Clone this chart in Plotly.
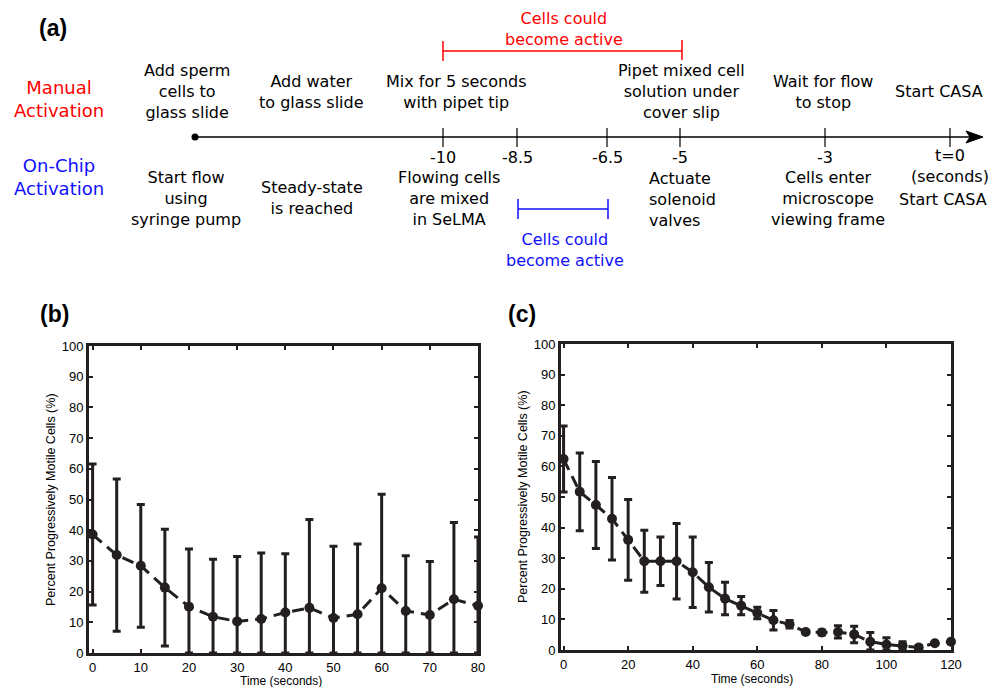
import numpy as np
import plotly.graph_objects as go

# ---------------- data ----------------
b_time = [0, 5, 10, 15, 20, 25, 30, 35, 40, 45, 50, 55, 60, 65, 70, 75, 80]
b_mean = [38.6, 31.9, 28.4, 21.3, 15.1, 11.8, 10.3, 11.1, 13.2, 14.7, 11.4, 12.6, 21.1, 13.7, 12.4, 17.5, 15.4]
b_err = [23.0, 24.8, 20.0, 19.0, 18.8, 18.7, 21.1, 21.5, 19.1, 28.8, 23.4, 22.9, 30.6, 18.0, 17.4, 25.0, 22.4]

c_time = [0, 5, 10, 15, 20, 25, 30, 35, 40, 45, 50, 55, 60, 65, 70, 75, 80, 85, 90, 95, 100, 105, 110, 115, 120]
c_mean = [62.4, 51.7, 47.4, 42.9, 36.0, 29.0, 29.0, 29.0, 25.4, 20.5, 16.8, 14.5, 12.1, 9.7, 8.4, 5.9, 5.7, 5.9, 5.1, 2.7, 1.8, 1.4, 0.8, 2.2, 2.7]
c_err = [10.8, 12.7, 14.2, 13.5, 13.2, 10.1, 7.9, 12.3, 11.5, 8.1, 5.3, 3.0, 1.9, 3.2, 1.2, 0.3, 0.8, 2.0, 2.7, 3.0, 2.2, 1.3, 0.7, 0.3, 0.3]

timeline_ticks = ["-10", "-8.5", "-6.5", "-5", "-3"]
manual_steps = ["Add sperm<br>cells to<br>glass slide", "Add water<br>to glass slide",
                "Mix for 5 seconds<br>with pipet tip", "Pipet mixed cell<br>solution under<br>cover slip",
                "Wait for flow<br>to stop", "Start CASA"]
chip_steps = ["Start flow<br>using<br>syringe pump", "Steady-state<br>is reached",
              "Flowing cells<br>are mixed<br>in SeLMA", "Actuate<br>solenoid<br>valves",
              "Cells enter<br>microscope<br>viewing frame", "Start CASA"]

# ---------------- layout helpers ----------------
W, H = 989, 687
def px(x):
    return x / W
def py(y):
    return 1 - y / H

INK = "#231f20"
RED = "#ff0000"
BLUE = "#1010ff"
TL_FONT = dict(family="DejaVu Sans", size=16, color="black")

fig = go.Figure()

def add_series(t, m, e, xa, ya):
    m = np.array(m)
    e = np.array(e)
    fig.add_trace(go.Scatter(
        x=t, y=m, xaxis=xa, yaxis=ya, mode="lines+markers",
        line=dict(color=INK, width=3, dash="12px,7px"),
        marker=dict(color=INK, size=10, symbol="circle"),
        error_y=dict(type="data", symmetric=False, array=e, arrayminus=np.minimum(e, m),
                     color=INK, thickness=3, width=4),
        cliponaxis=False, showlegend=False, hoverinfo="skip"))

add_series(b_time, b_mean, b_err, "x", "y")
add_series(c_time, c_mean, c_err, "x2", "y2")

axis_common = dict(showline=True, linewidth=3, linecolor=INK, mirror="allticks",
                   ticks="inside", ticklen=4, tickwidth=2, tickcolor=INK,
                   showgrid=False, zeroline=False, automargin=False,
                   tickfont=dict(family="Liberation Sans", size=13, color="black"))

fig.update_layout(
    width=W, height=H, autosize=False, margin=dict(l=0, r=0, t=0, b=0, pad=0),
    paper_bgcolor="white", plot_bgcolor="white",
    xaxis=dict(domain=[px(89), px(478)], range=[-0.75, 80], tickvals=list(range(0, 81, 10)),
               anchor="y", **axis_common),
    yaxis=dict(domain=[py(653), py(346)], range=[0, 100], tickvals=list(range(0, 101, 10)),
               anchor="x", **axis_common),
    xaxis2=dict(domain=[px(561), px(951)], range=[-0.8, 120], tickvals=list(range(0, 121, 20)),
                anchor="y2", **axis_common),
    yaxis2=dict(domain=[py(650), py(344)], range=[0, 100], tickvals=list(range(0, 101, 10)),
                anchor="x2", **axis_common),
)

ann = []
shapes = []

def text(x, y, s, font, xanchor="center", align="center", textangle=0):
    ann.append(dict(x=px(x), y=py(y), xref="paper", yref="paper", text=s, showarrow=False,
                    font=font, xanchor=xanchor, yanchor="middle", align=align, textangle=textangle))

def line(x0, y0, x1, y1, color="black", width=1.5):
    shapes.append(dict(type="line", xref="paper", yref="paper", x0=px(x0), y0=py(y0),
                       x1=px(x1), y1=py(y1), line=dict(color=color, width=width)))

# panel labels
lab_font = dict(family="Liberation Sans", size=23, color="black")
text(53, 28, "<b>(a)</b>", lab_font)
text(54, 314, "<b>(b)</b>", lab_font)
text(522, 314, "<b>(c)</b>", lab_font)

# axis titles for panels b, c
ytitle_font = dict(family="Liberation Sans", size=12.5, color="black")
xtitle_font = dict(family="Liberation Sans", size=12, color="black")
text(51, 500, "Percent Progressively Motile Cells (%)", ytitle_font, textangle=-90)
text(523, 497, "Percent Progressively Motile Cells (%)", ytitle_font, textangle=-90)
text(281, 680.5, "Time (seconds)", xtitle_font)
text(752, 678.5, "Time (seconds)", xtitle_font)

# ---------------- timeline (panel a) ----------------
row_font = dict(family="DejaVu Sans", size=18, color=RED)
text(59, 99, "Manual<br>Activation", row_font)
text(59, 177, "On-Chip<br>Activation", dict(row_font, color=BLUE))

axis_y = 137
line(195, axis_y, 970, axis_y, width=1.5)
shapes.append(dict(type="circle", xref="paper", yref="paper", x0=px(191.5), y0=py(133.5),
                   x1=px(198.5), y1=py(140.5), fillcolor="black", line=dict(color="black", width=0)))
shapes.append(dict(type="path", xref="paper", yref="paper",
                   path=f"M {px(966)} {py(131)} L {px(983)} {py(137)} L {px(966)} {py(143)} L {px(970)} {py(137)} Z",
                   fillcolor="black", line=dict(color="black", width=1)))

tick_px = [443, 517, 607, 680, 825, 950]
for xp in tick_px:
    line(xp, 128, xp, 147, width=1.2)
for xp, lab in zip(tick_px, timeline_ticks):
    text(xp, 158, lab, TL_FONT)
text(950, 166, "t=0<br>(seconds)", TL_FONT)

manual_x = [187, 311, 456, 681, 823, 939]
for xp, s in zip(manual_x, manual_steps):
    text(xp, 92, s, TL_FONT)

chip_x = [186, 312, 449, 647, 828, 943]
for i, (xp, s) in enumerate(zip(chip_x, chip_steps)):
    if i == 3:
        text(xp, 199, s, TL_FONT, xanchor="left", align="left")
    else:
        text(xp, 198 if i != 5 else 199, s, TL_FONT)

# red bracket (manual activation window)
line(443, 51, 682, 51, color=RED, width=1.5)
line(443, 41, 443, 61, color=RED, width=1.5)
line(682, 40, 682, 60, color=RED, width=1.5)
text(564, 29, "Cells could<br>become active", dict(TL_FONT, color=RED))

# blue bracket (on-chip activation window)
line(518, 209, 608, 209, color=BLUE, width=1.5)
line(518, 199, 518, 219, color=BLUE, width=1.5)
line(608, 199, 608, 219, color=BLUE, width=1.5)
text(565, 250, "Cells could<br>become active", dict(TL_FONT, color=BLUE))

fig.update_layout(annotations=ann, shapes=shapes)
fig.write_html("out.html",
               config={"responsive": False, "displayModeBar": False},
               post_script="document.body.style.margin='0px';document.body.style.padding='0px';document.body.style.overflow='hidden';")
